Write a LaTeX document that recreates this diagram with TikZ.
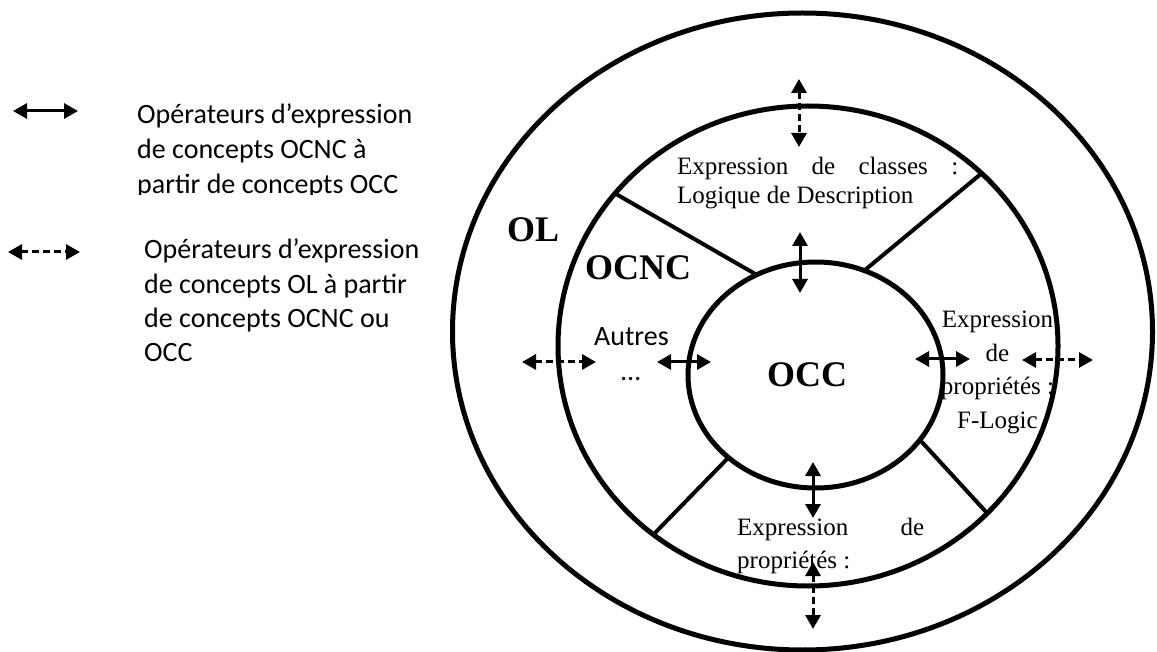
\documentclass[tikz,border=0pt]{standalone}
\usepackage{fontspec}
\setmainfont{Liberation Serif}
\newfontfamily\legendfont{Carlito}
\usetikzlibrary{arrows.meta}
\begin{document}
\begin{tikzpicture}[x=1pt,y=-1pt,
  ring/.style={line width=5pt},
  spoke/.style={line width=4pt},
  opsolid/.style={line width=3pt,
    {Triangle[length=14pt,width=15pt]}-{Triangle[length=14pt,width=15pt]}},
  opdashed/.style={opsolid,dash pattern=on 7pt off 4pt},
  txt/.style={inner sep=0pt,anchor=base west,font=\fontsize{25}{30}\selectfont},
  txtc/.style={txt,anchor=base},
  lbl/.style={inner sep=0pt,anchor=base west,font=\fontsize{36}{40}\selectfont\bfseries},
  leg/.style={inner sep=0pt,anchor=base west,font=\legendfont\fontsize{28}{34}\selectfont},
]
\useasboundingbox (0,0) rectangle (1157,652);

% --- legend ---
\coordinate (l1a) at (13,111);  \coordinate (l1b) at (78,111);
\draw[opsolid] (l1a) -- (l1b);
\node[leg] (l1t1) at (137,124) {Opérateurs d’expression};
\node[leg] (l1t2) at (137,159) {de concepts OCNC à};
\begin{scope}
  \clip (130,165) rectangle (460,195);
  \node[leg] (l1t3) at (137,194) {partir de concepts OCC};
\end{scope}

\coordinate (l2a) at (8,252);  \coordinate (l2b) at (80,252);
\draw[opdashed] (l2a) -- (l2b);
\node[leg] (l2t1) at (144,259) {Opérateurs d’expression};
\node[leg] (l2t2) at (144,294) {de concepts OL à partir};
\node[leg] (l2t3) at (144,328) {de concepts OCNC ou};
\node[leg] (l2t4) at (144,362) {OCC};

% --- rings ---
\draw[ring] (802.5,331.5) ellipse [x radius=350, y radius=318.5];
\draw[ring] (808,346) ellipse [x radius=250, y radius=240];
\draw[ring] (815.5,375) ellipse [x radius=127.5, y radius=113];

% --- spokes between middle and inner ring ---
\coordinate (ulo) at (616,194); \coordinate (uli) at (757,275);
\coordinate (uro) at (982,173); \coordinate (uri) at (865,270);
\coordinate (llo) at (653,535); \coordinate (lli) at (728,458);
\coordinate (lro) at (987,513); \coordinate (lri) at (920,440);
\draw[spoke] (ulo) -- (uli);
\draw[spoke] (uro) -- (uri);
\draw[spoke] (llo) -- (lli);
\draw[spoke] (lro) -- (lri);

% --- labels ---
\node[lbl] (ol) at (507,242) {OL};
\node[lbl] (ocnc) at (585,280) {OCNC};
\node[lbl] (occ) at (767,387) {OCC};

\node[txt] (topa) at (677,175) {\hbox to 281pt{Expression\hfill de\hfill classes\hfill :}};
\node[txt] (topb) at (677,204) {Logique de Description};

\node[txtc] (ra) at (997.5,328) {Expression};
\node[txtc] (rb) at (997.5,362) {de};
\node[txtc] (rc) at (997.5,395) {propriétés :};
\node[txtc] (rd) at (997.5,428) {F-Logic};

\node[txt] (ba) at (737,535) {\hbox to 187pt{Expression\hfill de}};
\node[txt] (bb) at (737,568) {propriétés :};

\node[leg] (autres) at (594,345) {Autres};
\node[leg] (dots) at (621,381) {…};

% --- operators ---
\coordinate (t1a) at (799,79);  \coordinate (t1b) at (799,147);
\coordinate (t2a) at (800,232); \coordinate (t2b) at (800,293);
\coordinate (w1a) at (522,362); \coordinate (w1b) at (596,362);
\coordinate (w2a) at (657,362); \coordinate (w2b) at (711,362);
\coordinate (e1a) at (915,359); \coordinate (e1b) at (970,359);
\coordinate (e2a) at (1022,360); \coordinate (e2b) at (1093,360);
\coordinate (s1a) at (813,462); \coordinate (s1b) at (813,518);
\coordinate (s2a) at (813,562); \coordinate (s2b) at (813,629);
\draw[opdashed] (t1a) -- (t1b);
\draw[opsolid] (t2a) -- (t2b);
\draw[opdashed] (w1a) -- (w1b);
\draw[opsolid] (w2a) -- (w2b);
\draw[opsolid] (e1a) -- (e1b);
\draw[opdashed] (e2a) -- (e2b);
\draw[opsolid] (s1a) -- (s1b);
\draw[opdashed] (s2a) -- (s2b);
\end{tikzpicture}
\end{document}
